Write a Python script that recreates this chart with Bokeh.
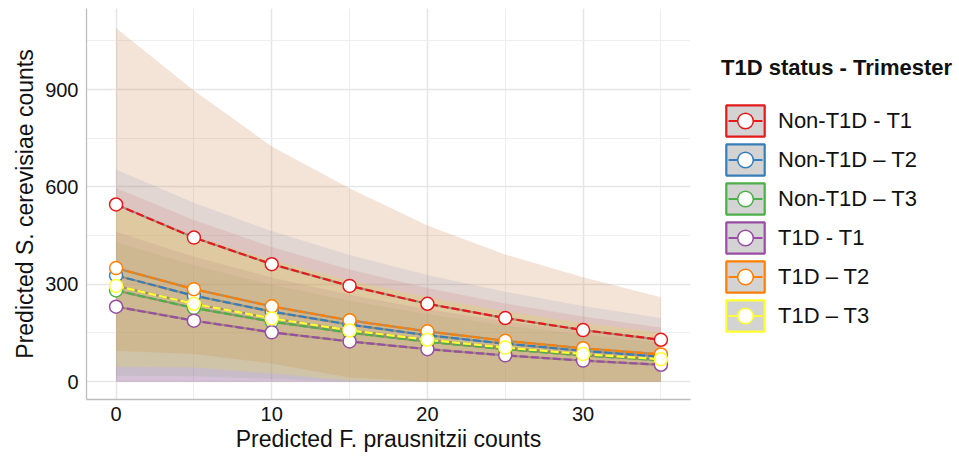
from bokeh.plotting import figure
from bokeh.models import Range1d, SingleIntervalTicker, Legend, LegendItem
from bokeh.embed import file_html
from bokeh.resources import INLINE

# ---------------- data ----------------
x_vals = [0, 5, 10, 15, 20, 25, 30, 35]

groups = ["Non-T1D - T1", "Non-T1D \u2013 T2", "Non-T1D \u2013 T3",
          "T1D - T1", "T1D \u2013 T2", "T1D \u2013 T3"]
colors = ["#E41A1C", "#377EB8", "#4DAF4A", "#984EA3", "#FF7F00", "#FFFF33"]
band_colors = ["#D0504A", "#6C8FD0", "#5FA05A", "#9A5AA8", "#C8783C", "#E8E030"]
band_alphas = [0.14, 0.15, 0.12, 0.17, 0.20, 0.21]

# predicted S. cerevisiae counts (points / lines)
mean_non_t1 = [546, 444, 362, 295, 240, 196, 159, 129]
mean_non_t2 = [327, 265, 216, 176, 143, 117, 95, 77]
mean_non_t3 = [281, 227, 185, 151, 123, 100, 81, 66]
mean_t1d_t1 = [231, 188, 152, 124, 100, 81, 65, 52]
mean_t1d_t2 = [350, 285, 232, 189, 155, 126, 103, 84]
mean_t1d_t3 = [295, 240, 195, 158, 129, 105, 85, 69]

# confidence bands (upper / lower)
upper_non_t1 = [597, 498, 415, 346, 289, 241, 201, 167]
lower_non_t1 = [0, 0, 0, 0, 0, 0, 0, 0]
upper_non_t2 = [654, 551, 464, 390, 329, 277, 233, 196]
lower_non_t2 = [0, 0, 0, 0, 0, 0, 0, 0]
upper_non_t3 = [430, 359, 299, 249, 208, 173, 145, 121]
lower_non_t3 = [18, 17, 8, 0, 0, 0, 0, 0]
upper_t1d_t1 = [462, 385, 321, 268, 223, 186, 155, 130]
lower_t1d_t1 = [0, 0, 0, 0, 0, 0, 0, 0]
upper_t1d_t2 = [1090, 897, 725, 596, 481, 392, 322, 260]
lower_t1d_t2 = [95, 85, 56, 13, 0, 0, 0, 0]
upper_t1d_t3 = [537, 448, 374, 312, 260, 217, 181, 151]
lower_t1d_t3 = [46, 44, 25, 3, 0, 0, 0, 0]

means = [mean_non_t1, mean_non_t2, mean_non_t3, mean_t1d_t1, mean_t1d_t2, mean_t1d_t3]
uppers = [upper_non_t1, upper_non_t2, upper_non_t3, upper_t1d_t1, upper_t1d_t2, upper_t1d_t3]
lowers = [lower_non_t1, lower_non_t2, lower_non_t3, lower_t1d_t1, lower_t1d_t2, lower_t1d_t3]

FONT = "Liberation Sans"

# ---------------- figure ----------------
p = figure(frame_width=604, frame_height=391,
           x_range=Range1d(-1.9, 36.9), y_range=Range1d(-55, 1150),
           output_backend="svg", toolbar_location=None,
           min_border_left=86, min_border_right=0,
           min_border_top=8, min_border_bottom=51)
p.outline_line_color = None
p.background_fill_color = "white"

p.xaxis.ticker = SingleIntervalTicker(interval=10, num_minor_ticks=2)
p.yaxis.ticker = SingleIntervalTicker(interval=300, num_minor_ticks=2)
for g in (p.xgrid, p.ygrid):
    g.grid_line_color = "#E6E6E6"
    g.grid_line_width = 1.6
    g.minor_grid_line_color = "#EEEEEE"
    g.minor_grid_line_width = 1.1

for ax in (p.xaxis, p.yaxis):
    ax.axis_line_color = "#BDBDBD"
    ax.axis_line_width = 1.3
    ax.major_tick_line_color = None
    ax.minor_tick_line_color = None
    ax.major_tick_out = 0
    ax.major_tick_in = 0
    ax.minor_tick_out = 0
    ax.minor_tick_in = 0
    ax.major_label_text_font = FONT
    ax.major_label_text_font_size = "20px"
    ax.major_label_text_color = "#111111"
    ax.axis_label_text_font = FONT
    ax.axis_label_text_font_size = "23px"
    ax.axis_label_text_font_style = "normal"
    ax.axis_label_text_color = "#111111"

p.xaxis.axis_label = "Predicted F. prausnitzii counts"
p.yaxis.axis_label = "Predicted S. cerevisiae counts"
p.xaxis.major_label_standoff = 7
p.xaxis.axis_label_standoff = 2
p.yaxis.major_label_standoff = 8
p.yaxis.axis_label_standoff = 4

# bands
for c, a, up, lo in zip(band_colors, band_alphas, uppers, lowers):
    p.varea(x=x_vals, y1=lo, y2=up, fill_color=c, fill_alpha=a)

# lines
for c, m in zip(colors, means):
    p.line(x_vals, m, line_color="#7A6E62", line_alpha=0.55, line_width=2.2)
    p.line(x_vals, m, line_color=c, line_width=2.2, line_dash="8 3")

# points
pt_rs = []
for c, m in zip(colors, means):
    r = p.scatter(x_vals, m, marker="circle", size=13, fill_color="white",
                  line_color=c, line_width=1.5)
    pt_rs.append(r)

# legend keys (rendered only inside the legend)
box_rs, key_line_rs = [], []
for c in colors:
    b = p.quad(left=[-100], right=[-99], bottom=[-100], top=[-99],
               fill_color="#D3D3D3", line_color=c, line_width=2.2)
    l = p.line(x=[-100, -99], y=[-100, -99], line_color=c, line_width=2,
               line_dash="0 7 34 7")
    box_rs.append(b)
    key_line_rs.append(l)

items = [LegendItem(label=g, renderers=[b, l, s])
         for g, b, l, s in zip(groups, box_rs, key_line_rs, pt_rs)]

legend = Legend(items=items, location=(31, 64),
                title="T1D status - Trimester",
                title_text_font=FONT, title_text_font_style="bold",
                title_text_font_size="22px", title_text_color="#111111",
                title_standoff=20,
                label_text_font=FONT, label_text_font_size="22px",
                label_text_color="#111111",
                glyph_width=48, glyph_height=39, spacing=0,
                padding=4, margin=0, label_standoff=9,
                border_line_color=None, background_fill_alpha=0)
p.add_layout(legend, "right")

open("out.html", "w").write(file_html(p, INLINE))
